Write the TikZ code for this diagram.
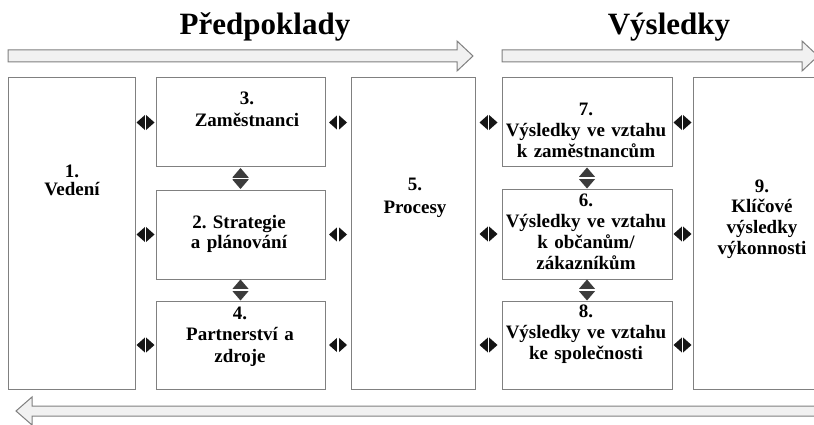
\documentclass[tikz,border=0pt]{standalone}
\usepackage{fontspec}
\setmainfont{Liberation Serif}
\usetikzlibrary{calc}
\frenchspacing
\definecolor{edgegrey}{HTML}{808080}
\definecolor{arrowfill}{HTML}{F1F1F1}
\definecolor{hlinkfill}{HTML}{151515}
\definecolor{vlinkfill}{HTML}{3C3C3C}
\newcommand{\labelfont}[1]{\bfseries\fontsize{19}{#1}\selectfont}
\tikzset{
  box/.style={draw=edgegrey, line width=1pt, fill=white, inner sep=0pt, rectangle},
  label/.style={font=\labelfont{#1}, align=center, text width=170pt, anchor=base, inner sep=0pt},
  label/.default=21.5pt,
  title/.style={font=\bfseries\fontsize{31}{33}\selectfont, anchor=base, inner sep=0pt},
  flow/.style={draw=edgegrey, line width=1pt, fill=arrowfill, line join=miter},
  hlink/.pic={
    \fill[hlinkfill] (-9,0) -- (0,-8) -- (9,0) -- (0,8) -- cycle;
    \draw[white, line width=1.3pt] (0,-9) -- (0,9);
  },
  vlink/.pic={
    \fill[vlinkfill] (0,-10.5) -- (8,-1.2) -- (8,1.2) -- (0,10.5) -- (-8,1.2) -- (-8,-1.2) -- cycle;
    \draw[white, line width=1.6pt] (-9,0) -- (9,0);
  }
}
\begin{document}
\begin{tikzpicture}[x=1pt, y=-1pt]
\clip (0,0) rectangle (814,425);
\fill[white] (0,0) rectangle (814,425);

% section titles
\node[title] (tpre) at (265,35) {Předpoklady};
\node[title] (tres) at (669,35) {Výsledky};

% flow arrows
\draw[flow] (8,50) -- (457,50) -- (457,41) -- (473,56) -- (457,71) -- (457,62) -- (8,62) -- cycle;
\draw[flow] (502,50) -- (802,50) -- (802,41) -- (818,56) -- (802,71) -- (802,62) -- (502,62) -- cycle;
\draw[flow] (830,406) -- (32,406) -- (32,397) -- (16,411) -- (32,425) -- (32,416) -- (830,416) -- cycle;

% criteria boxes
\node[box, minimum width=127pt, minimum height=311pt] (b1) at (71.5,233.5) {};
\node[box, minimum width=169pt, minimum height=89pt]  (b3) at (240.5,122.5) {};
\node[box, minimum width=169pt, minimum height=89pt]  (b2) at (240.5,234.5) {};
\node[box, minimum width=169pt, minimum height=88pt]  (b4) at (240.5,345) {};
\node[box, minimum width=124pt, minimum height=311pt] (b5) at (413,233.5) {};
\node[box, minimum width=170pt, minimum height=89pt]  (b7) at (587,122.5) {};
\node[box, minimum width=170pt, minimum height=90pt]  (b6) at (587,234) {};
\node[box, minimum width=170pt, minimum height=88pt]  (b8) at (587,345) {};
\node[box, minimum width=137pt, minimum height=311pt] (b9) at (761.5,233.5) {};

% box texts
\node[label=18.5pt] (l1) at (72,177) {1.\\Vedení};
\node[label=22pt] (l3) at (247,105) {3.\\Zaměstnanci};
\node[label=20.5pt] (l2) at (239,228) {2. Strategie\\a plánování};
\node[label=21.5pt] (l4) at (240,319) {4.\\Partnerství a\\zdroje};
\node[label=23pt] (l5) at (415,190) {5.\\Procesy};
\node[label=21pt] (l7) at (586,116) {7.\\Výsledky ve vztahu\\k zaměstnancům};
\node[label=21pt] (l6) at (586,206) {6.\\Výsledky ve vztahu\\k občanům/\\zákazníkům};
\node[label=21pt] (l8) at (586,317) {8.\\Výsledky ve vztahu\\ke společnosti};
\node[label=20.7pt] (l9) at (762,192) {9.\\Klíčové\\výsledky\\výkonnosti};

% horizontal links between neighbouring columns
\pic at ($(b1.east |- b3.west)!0.5!(b3.west)$) {hlink};
\pic at ($(b1.east |- b2.west)!0.5!(b2.west)$) {hlink};
\pic at ($(b1.east |- b4.west)!0.5!(b4.west)$) {hlink};
\pic at ($(b3.east)!0.5!(b5.west |- b3.east)$) {hlink};
\pic at ($(b2.east)!0.5!(b5.west |- b2.east)$) {hlink};
\pic at ($(b4.east)!0.5!(b5.west |- b4.east)$) {hlink};
\pic at ($(b5.east |- b7.west)!0.5!(b7.west)$) {hlink};
\pic at ($(b5.east |- b6.west)!0.5!(b6.west)$) {hlink};
\pic at ($(b5.east |- b8.west)!0.5!(b8.west)$) {hlink};
\pic at ($(b7.east)!0.5!(b9.west |- b7.east)$) {hlink};
\pic at ($(b6.east)!0.5!(b9.west |- b6.east)$) {hlink};
\pic at ($(b8.east)!0.5!(b9.west |- b8.east)$) {hlink};

% vertical links inside the stacked columns
\pic at ($(b3.south)!0.5!(b2.north)$) {vlink};
\pic at ($(b2.south)!0.5!(b4.north)$) {vlink};
\pic at ($(b7.south)!0.5!(b6.north)$) {vlink};
\pic at ($(b6.south)!0.5!(b8.north)$) {vlink};
\end{tikzpicture}
\end{document}
